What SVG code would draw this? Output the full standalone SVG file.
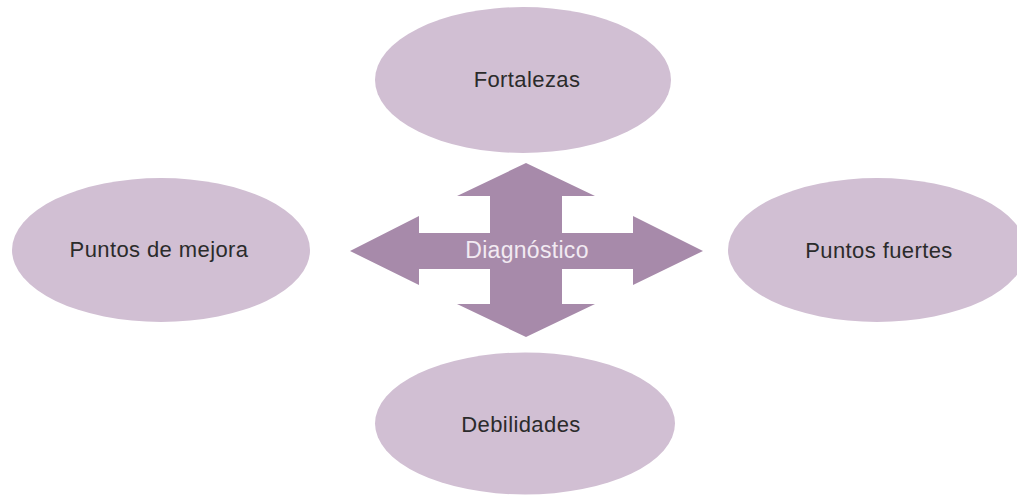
<svg xmlns="http://www.w3.org/2000/svg" width="1017" height="497" viewBox="0 0 1017 497">
<style>
.node ellipse{fill:#d1bfd3;}
.node text{font-family:"Liberation Sans",Arial,sans-serif;font-size:22px;letter-spacing:0.4px;fill:#2b2b2b;text-anchor:middle;}
.arrow{fill:#a78aaa;}
.center{font-family:"Liberation Sans",Arial,sans-serif;font-size:23px;letter-spacing:0.3px;fill:#f2eaf2;text-anchor:middle;}
</style>
<rect width="1017" height="497" fill="#ffffff"/>
<g id="fortalezas" class="node"><ellipse cx="523" cy="80" rx="148" ry="73"/><text x="527" y="87">Fortalezas</text></g>
<g id="puntos-de-mejora" class="node"><ellipse cx="161" cy="250" rx="149" ry="72"/><text x="159" y="257">Puntos de mejora</text></g>
<g id="puntos-fuertes" class="node"><ellipse cx="877" cy="250" rx="149" ry="72"/><text x="879" y="258">Puntos fuertes</text></g>
<g id="debilidades" class="node"><ellipse cx="525" cy="423.5" rx="150" ry="71"/><text x="521" y="432">Debilidades</text></g>
<g id="connectors">
<g id="diagnostico">
<polygon class="arrow" points="526,163 595,196 562,196 562,233 633,233 633,216 703,251 633,285 633,269 562,269 562,304 595,304 526,337 457,304 490,304 490,269 419,269 419,285 350,251 419,216 419,233 490,233 490,196 457,196"/>
<text class="center" x="527" y="258">Diagnóstico</text>
</g>
</g>
</svg>
